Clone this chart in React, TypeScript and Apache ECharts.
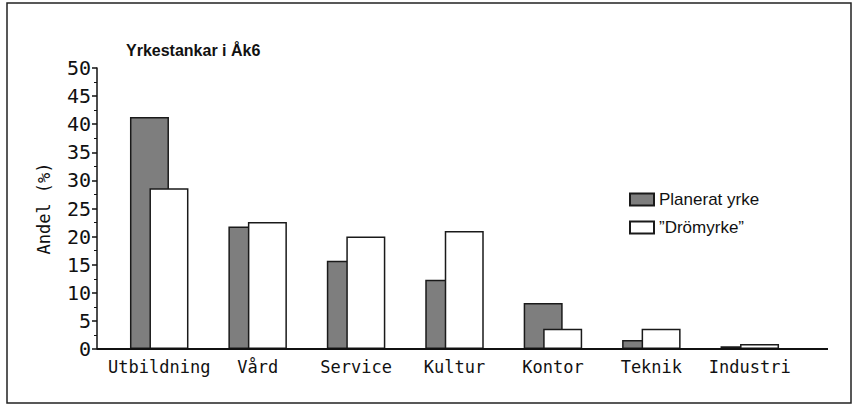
import React, { useEffect, useRef } from "react";
import * as echarts from "echarts";

const categories = ["Utbildning", "Vård", "Service", "Kultur", "Kontor", "Teknik", "Industri"];
const planerat = [41.3, 21.8, 15.7, 12.3, 8.2, 1.6, 0.5];
const dromyrke = [28.6, 22.6, 20.0, 21.0, 3.6, 3.6, 0.9];
const seriesNames = ["Planerat yrke", "\u201DDrömyrke\u201D"];
const titleText = "Yrkestankar i Åk6";
const yName = "Andel (%)";

export default function App() {
  const ref = useRef<HTMLDivElement>(null);
  useEffect(() => {
    if (!ref.current) return;
    const chart = echarts.init(ref.current, null, { renderer: "svg" });
    const mono = "DejaVu Sans Mono";
    chart.setOption({
      animation: false,
      backgroundColor: "#fff",
      title: {
        text: titleText,
        left: 121,
        top: 37,
        textStyle: { fontFamily: "Liberation Sans", fontWeight: "bold", fontSize: 16, color: "#111" },
      },
      legend: {
        orient: "vertical",
        left: 624,
        top: 186,
        itemWidth: 24,
        itemHeight: 12,
        itemGap: 11,
        icon: "rect",
        textStyle: { fontFamily: "Liberation Sans", fontSize: 17, color: "#111" },
        data: seriesNames,
      },
      grid: { left: 110, width: 689, top: 68, bottom: 56 },
      xAxis: {
        type: "category",
        data: categories,
        axisLine: { show: true, lineStyle: { color: "#111", width: 2 } },
        axisTick: { show: false },
        axisLabel: { fontFamily: mono, fontSize: 17, color: "#111", margin: 9, interval: 0 },
      },
      yAxis: {
        type: "value",
        min: 0,
        max: 50,
        interval: 5,
        offset: 13,
        name: yName,
        nameLocation: "middle",
        nameGap: 45,
        nameTextStyle: { fontFamily: mono, fontSize: 17, color: "#111" },
        axisLine: { show: true, lineStyle: { color: "#111", width: 1.5 } },
        axisTick: { show: true, length: 5, lineStyle: { color: "#111", width: 1.5 } },
        minorTick: { show: true, splitNumber: 2, length: 3, lineStyle: { color: "#111" } },
        splitLine: { show: false },
        axisLabel: { fontFamily: mono, fontSize: 20, color: "#111", margin: 6 },
      },
      series: [
        {
          name: seriesNames[0],
          type: "bar",
          data: planerat,
          barWidth: 39,
          barGap: "-50%",
          itemStyle: { color: "#7e7e7e", borderColor: "#1a1a1a", borderWidth: 1.5 },
        },
        {
          name: seriesNames[1],
          type: "bar",
          data: dromyrke,
          barWidth: 39,
          barGap: "-50%",
          itemStyle: { color: "#ffffff", borderColor: "#1a1a1a", borderWidth: 1.5 },
        },
      ],
      graphic: [
        {
          type: "rect",
          shape: { x: 7, y: 3, width: 844, height: 400 },
          style: { fill: "none", stroke: "#222", lineWidth: 1.5 },
          z: 0,
        },
        {
          type: "line",
          shape: { x1: 97, y1: 349, x2: 828, y2: 349 },
          style: { stroke: "#111", lineWidth: 2 },
          z: 10,
        },
      ],
    });
    return () => chart.dispose();
  }, []);
  return <div ref={ref} style={{ width: 853, height: 405, position: "absolute", left: 0, top: 0 }} />;
}
